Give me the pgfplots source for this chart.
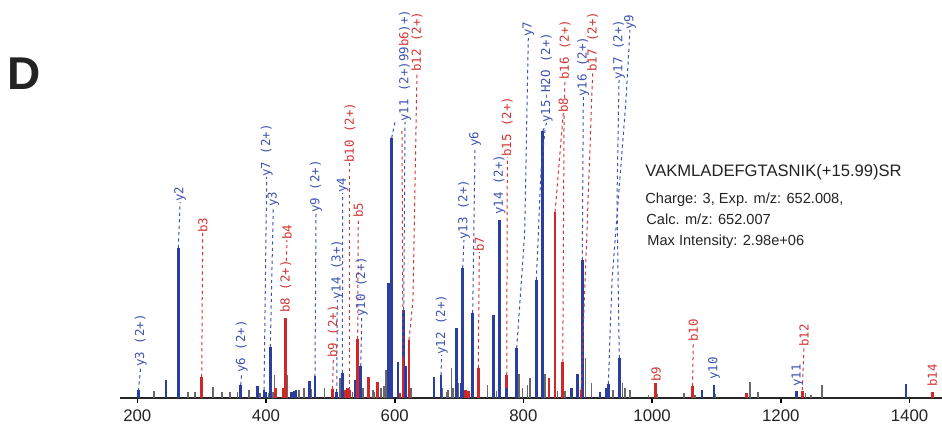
\documentclass[border=0pt]{standalone}
\usepackage{fontspec}
\setmainfont{Liberation Sans}
\newfontfamily\labfont{DejaVu Sans Mono}
\usepackage{pgfplots}
\pgfplotsset{compat=1.18}
\definecolor{pblue}{RGB}{42,62,160}
\definecolor{pred}{RGB}{208,40,40}
\definecolor{pgray}{RGB}{105,105,105}
\definecolor{lblue}{RGB}{62,82,178}
\definecolor{lred}{RGB}{214,52,52}
\definecolor{txt}{RGB}{35,35,35}
\tikzset{
    lab/.style={rotate=90,anchor=west,inner sep=0pt,font=\fontsize{6.2}{7}\labfont},
    leadB/.style={lblue,line width=0.5pt,dash pattern=on 1.6pt off 1.6pt},
    leadR/.style={lred,line width=0.5pt,dash pattern=on 1.6pt off 1.6pt},
}

\begin{document}
\begin{tikzpicture}
\begin{axis}[
    scale only axis, width=411pt, height=199pt,
    xmin=173.1, xmax=1450.5, ymin=0, ymax=398,
    axis x line*=bottom, axis y line=none,
    axis line style={line width=0.9pt,black!85},
    xtick={200,400,...,1400}, tick align=outside,
    major tick length=2.5pt, tick style={line width=0.8pt,black},
    xticklabel style={font=\fontsize{8.4}{10}\selectfont,text=txt},
    /pgf/number format/assume math mode=true,
    /pgf/number format/1000 sep={},
    clip=false,
]
  % unannotated peaks
  \addplot[ycomb,draw=pgray,line width=0.8pt] coordinates {
    (226,7) (278.8,6) (289.2,6) (317.2,10.7) (331.2,6) (344.1,6) (355.4,6) (374.0,8) (390.7,5)
    (403.9,5) (410.4,6) (412.9,23) (433.7,23) (451.7,8) (459.0,10) (471.0,9) (490.6,10) (515.0,20)
    (534.1,6) (550.7,10) (565.8,8) (568.3,6) (578.7,10) (583.4,12) (586.5,28) (625.3,10) (674.4,10)
    (680.6,6) (683.1,8) (688.4,30) (690.8,10) (698.6,15) (744.4,13) (757.9,7) (793.6,24) (798.3,10)
    (806.1,13) (810.3,20) (834.0,24) (853.0,7) (864.9,7) (896.5,40) (905.8,15) (939.5,8) (954.0,15)
    (957.6,10) (965.3,8) (994.4,3) (1008.4,4) (1050.0,5) (1066.7,3) (1097.8,4) (1152.1,16)
    (1165.0,6) (1238.4,5) (1246.9,3) (1263.6,13)};
  % y ions
  \addplot[ycomb,draw=pblue,line width=1.4pt] coordinates {
    (201.6,7.6) (244.6,18) (263.7,150) (360.7,13) (387.1,12) (396.9,8) (400.0,6) (406.7,51)
    (439.9,6) (443.5,7) (446.6,8) (467.3,16.6) (476.1,21.6) (509.9,6) (518.6,25) (538.8,18)
    (547.2,32) (590.7,115) (595.3,260) (605.1,35.6) (614.0,88) (617.1,32) (661.1,20.6) (671.9,23)
    (696.3,70) (703.0,15) (705.6,130) (721.2,85) (753.2,83) (762.6,178) (789.6,50) (820.1,118)
    (830.0,266.6) (875.1,10) (883.8,24) (891.5,138) (919.0,6) (928.4,10) (931.9,14) (949.0,40)
    (1077.5,7.6) (1096.2,13) (1224.4,7.5) (1394.5,14)};
  % b ions
  \addplot[ycomb,draw=pred,line width=1.4pt] coordinates {
    (300.1,20.6) (415.1,10) (427.5,10) (430.6,80) (503.6,9.5) (522.8,8) (526.6,10) (530.5,8)
    (542.5,59) (559.0,21.3) (573.3,16) (608.2,5) (612.9,40) (622.2,58) (710.3,8) (714.4,7)
    (729.9,30) (774.1,23) (839.8,20) (849.2,186) (861.2,36) (889.6,8) (1005.6,15) (1062.8,12)
    (1147.0,5) (1233.4,7) (1435.7,6)};
  \addplot[ycomb,draw=pblue,line width=1.4pt] coordinates {(774.1,10)};

  % leader lines
  \addplot[leadB] coordinates {(201.6,7) (205.3,31)};
  \addplot[leadB] coordinates {(263.7,150) (266.4,196)};
  \addplot[leadR] coordinates {(300.1,21) (301.6,165)};
  \addplot[leadB] coordinates {(360.7,13) (362.2,25)};
  \addplot[leadB] coordinates {(396.9,8) (401.1,221)};
  \addplot[leadB] coordinates {(406.7,51) (411.3,191)};
  \addplot[leadR] coordinates {(431.6,137) (432.6,158)};
  \addplot[leadB] coordinates {(476.1,21) (477.7,185)};
  \addplot[leadR] coordinates {(503.6,9) (504.6,40)};
  \addplot[leadB] coordinates {(509.9,6) (510.8,98)};
  \addplot[leadB] coordinates {(518.6,25) (519.2,205)};
  \addplot[leadR] coordinates {(530.5,8) (530.5,235)};
  \addplot[leadR] coordinates {(542.5,59) (543.4,180)};
  \addplot[leadB] coordinates {(547.2,32) (548.7,81)};
  \addplot[leadB] coordinates {(614.0,88) (616.0,276)};
  \addplot[leadR] coordinates {(612.9,40) (611.3,268)};
  \addplot[leadB] coordinates {(595.3,260) (600.4,276)};
  \addplot[leadR] coordinates {(622.2,58) (628.4,98) (634.6,326)};
  \addplot[leadB] coordinates {(671.9,23) (673.0,43)};
  \addplot[leadB] coordinates {(705.6,130) (707.7,158)};
  \addplot[leadB] coordinates {(721.2,85) (724.8,251)};
  \addplot[leadR] coordinates {(729.9,30) (731.5,146)};
  \addplot[leadR] coordinates {(774.1,23) (775.0,241)};
  \addplot[leadB] coordinates {(789.6,50) (802.0,165) (807.6,361)};
  \addplot[leadB] coordinates {(830.0,267) (836.2,275)};
  \addplot[leadB] coordinates {(820.1,118) (827.4,228) (833.6,268)};
  \addplot[leadR] coordinates {(849.2,186) (862.0,285)};
  \addplot[leadR] coordinates {(861.2,36) (863.2,285)};
  \addplot[leadR] coordinates {(863.9,300) (864.6,318)};
  \addplot[leadB] coordinates {(891.5,138) (893.1,301)};
  \addplot[leadR] coordinates {(889.6,8) (898.8,168) (907.7,326)};
  \addplot[leadB] coordinates {(949.0,40) (945.4,198) (948.6,318)};
  \addplot[leadB] coordinates {(931.9,14) (937.7,118) (959.4,298) (965.6,368)};
  \addplot[leadR] coordinates {(1062.8,12) (1064.0,56)};
  \addplot[leadR] coordinates {(1233.4,8) (1236.0,51)};

  % ion labels
  \node[lab,lblue] at (axis cs:205.3,31) {y3 (2+)};
  \node[lab,lblue] at (axis cs:266.4,196) {y2};
  \node[lab,lred]  at (axis cs:301.6,165) {b3};
  \node[lab,lblue] at (axis cs:362.2,25) {y6 (2+)};
  \node[lab,lblue] at (axis cs:401.1,221) {y7 (2+)};
  \node[lab,lblue] at (axis cs:411.3,191) {y3};
  \node[lab,lred]  at (axis cs:430.6,85) {b8 (2+)};
  \node[lab,lred]  at (axis cs:432.6,158) {b4};
  \node[lab,lblue] at (axis cs:477.7,185) {y9 (2+)};
  \node[lab,lred]  at (axis cs:504.6,40) {b9 (2+)};
  \node[lab,lblue] at (axis cs:510.8,98) {y14 (3+)};
  \node[lab,lblue] at (axis cs:519.2,205) {y4};
  \node[lab,lred]  at (axis cs:530.6,235) {b10 (2+)};
  \node[lab,lred]  at (axis cs:543.4,180) {b5};
  \node[lab,lblue] at (axis cs:548.7,81) {y10 (2+)};
  \node[lab,lblue] at (axis cs:616.0,276) {y11 (2+)99\textcolor{lred}{b6}\textcolor{lblue}{)+)}};
  \node[lab,lred]  at (axis cs:634.6,326) {b12 (2+)};
  \node[lab,lblue] at (axis cs:673.0,43) {y12 (2+)};
  \node[lab,lblue] at (axis cs:707.7,158) {y13 (2+)};
  \node[lab,lblue] at (axis cs:724.8,251) {y6};
  \node[lab,lred]  at (axis cs:731.5,146) {b7};
  \node[lab,lblue] at (axis cs:762.6,183) {y14 (2+)};
  \node[lab,lred]  at (axis cs:775.0,241) {b15 (2+)};
  \node[lab,lblue] at (axis cs:807.6,361) {y7};
  \node[lab,lblue] at (axis cs:836.2,275) {y15-H2O (2+)};
  \node[lab,lred]  at (axis cs:862.0,285) {b8};
  \node[lab,lred]  at (axis cs:864.6,318) {b16 (2+)};
  \node[lab,lblue] at (axis cs:893.1,301) {y16 (2+)};
  \node[lab,lred]  at (axis cs:907.7,326) {b17 (2+)};
  \node[lab,lblue] at (axis cs:948.6,318) {y17 (2+)};
  \node[lab,lblue] at (axis cs:965.6,368) {y9};
  \node[lab,lred]  at (axis cs:1006.0,16) {b9};
  \node[lab,lred]  at (axis cs:1064.0,56) {b10};
  \node[lab,lblue] at (axis cs:1096.2,18) {y10};
  \node[lab,lblue] at (axis cs:1225.6,11) {y11};
  \node[lab,lred]  at (axis cs:1236.0,51) {b12};
  \node[lab,lred]  at (axis cs:1435.4,11) {b14};
\end{axis}

% panel letter and spectrum info
\node[anchor=base west,inner sep=0pt,font=\fontsize{23}{23}\bfseries\selectfont,text=txt] at (-56.5pt,154pt) {D};
\node[anchor=base west,inner sep=0pt,font=\fontsize{8.3}{10}\selectfont,text=txt] at (262.5pt,110.5pt) {VAKMLADEFGTASNIK(+15.99)SR};
\node[anchor=base west,inner sep=0pt,font=\fontsize{7.3}{9}\selectfont,text=txt] at (262.5pt,97pt) {Charge: 3, Exp. m/z: 652.008,};
\node[anchor=base west,inner sep=0pt,font=\fontsize{7.3}{9}\selectfont,text=txt] at (263pt,86.5pt) {Calc. m/z: 652.007};
\node[anchor=base west,inner sep=0pt,font=\fontsize{7.3}{9}\selectfont,text=txt] at (263.5pt,76pt) {Max Intensity: 2.98e+06};

\pgfresetboundingbox
\useasboundingbox (-60pt,-12.5pt) rectangle (411pt,199pt);
\end{tikzpicture}
\end{document}
